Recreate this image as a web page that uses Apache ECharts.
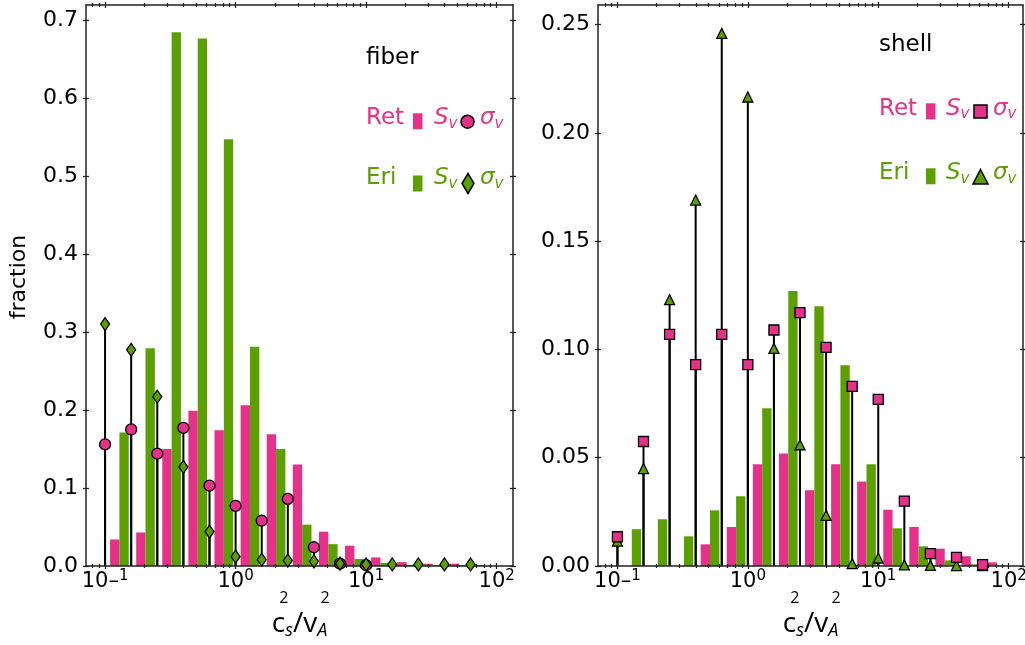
<!DOCTYPE html>
<html><head><meta charset="utf-8">
<script src="https://cdn.jsdelivr.net/npm/echarts@6/dist/echarts.min.js"></script>
<style>html,body{margin:0;padding:0;background:#fff}#c{width:1025px;height:645px}</style>
</head><body><div id="c"></div>
<script>
// ---- data (x positions are log10 of c_s^2/v_A^2) ----
const stemLogX = [-1.0,-0.8,-0.6,-0.4,-0.2,0.0,0.2,0.4,0.6,0.8,1.0,1.2,1.4,1.6,1.8];
const barLogX  = [-0.89,-0.69,-0.49,-0.29,-0.09,0.11,0.31,0.51,0.71,0.91,1.11,1.31,1.51,1.71,1.91];

// fiber panel
const fiberRetS     = [0.034,0.043,0.150,0.199,0.174,0.206,0.169,0.130,0.044,0.026,0.011,0.005,0.003,0.003,0.001];
const fiberEriS     = [0.171,0.279,0.684,0.676,0.547,0.281,0.150,0.053,0.028,0.009,0.004,0.0015,0.001,0.001,0.0];
const fiberRetSigma = [0.156,0.175,0.144,0.177,0.103,0.077,0.058,0.086,0.024,0.003,0.001,null,null,null,null];
const fiberEriSigma = [0.310,0.277,0.217,0.127,0.044,0.012,0.008,0.007,0.006,0.003,0.002,0.002,0.002,0.002,0.002];

// shell panel
const shellRetS     = [0,0,0,0.010,0.018,0.047,0.052,0.035,0.047,0.039,0.026,0.018,0.008,0.0045,0.0017];
const shellEriS     = [0.017,0.0216,0.0137,0.0257,0.0322,0.0729,0.127,0.120,0.0927,0.047,0.0174,0.0091,0.0026,0.0008,0.0002];
const shellRetSigma = [0.0135,0.0575,0.107,0.093,0.107,0.093,0.109,0.117,0.101,0.083,0.077,0.030,0.0057,0.004,0.0006];
const shellEriSigma = [0.0115,0.045,0.123,0.169,0.246,0.2166,0.1005,0.056,0.0234,0.0011,0.0037,0.0005,0.0003,0.0002,0.0002];

// ticks
const xTickLogs = [-1,0,1,2];
const xTickExps = ['-1','0','1','2'];
const yTicksFiber = [0,0.1,0.2,0.3,0.4,0.5,0.6,0.7];
const yTicksShell = [0,0.05,0.10,0.15,0.20,0.25];

// ---- style ----
const PINK = '#E6318A', GREEN = '#5BA000', AXC = '#222';
const FONT = 'DejaVu Sans';
const BAR_W = 0.0715; // bar width in decades
const X_MIN = [-1.146,-1.149], X_MAX = [2.125,2.11];
const Y_MAX = [0.719,0.2591];
const Y_TICKS = [yTicksFiber, yTicksShell];
const Y_DEC = [1,2];

function minorTicks(g){
  const out=[];
  for(let d=-2; d<=2; d++) for(let k=2;k<=9;k++){ const v=Math.log10(k)+d; if(v>X_MIN[g]&&v<X_MAX[g]) out.push(v); }
  return out;
}
function xAx(g, o){
  return Object.assign({type:'value', gridIndex:g, min:X_MIN[g], max:X_MAX[g], z:10,
    axisLine:{show:false,onZero:false}, axisTick:{show:false}, axisLabel:{show:false}, splitLine:{show:false}}, o);
}
function yAx(g, o){
  return Object.assign({type:'value', gridIndex:g, min:0, max:Y_MAX[g], z:10,
    axisLine:{show:false,onZero:false}, axisTick:{show:false}, axisLabel:{show:false}, splitLine:{show:false}}, o);
}
const lineOn = {show:true,onZero:false,lineStyle:{color:AXC,width:1.5}};
function tick(vals,len){ return {show:true, customValues:vals, length:len, lineStyle:{color:AXC,width:1.3}}; }

const xAxes=[], yAxes=[];
[0,1].forEach(g=>{
  const mn = minorTicks(g);
  xAxes.push(xAx(g,{position:'bottom', axisLine:lineOn,
    axisLabel:{show:true, customValues:xTickLogs, margin:3,
      formatter:v=>{ const i=xTickLogs.findIndex(t=>Math.abs(t-v)<1e-6); const e=xTickExps[i];
        return e[0]==='-' ? '{b|10–}{s|'+e.slice(1)+'}' : '{b|10}{s|'+e+'}'; },
      rich:{ b:{fontFamily:FONT,fontSize:21,color:'#000',lineHeight:26,verticalAlign:'middle'},
             s:{fontFamily:FONT,fontSize:15,color:'#000',lineHeight:15,verticalAlign:'top'} } },
    name:'{sp|}{t|2}{g|}{t|2}\n{m|c}{sub|s}{m|/v}{sub|A}', nameLocation:'middle', nameGap:22, nameMoveOverlap:false,
    nameTextStyle:{ rich:{ sp:{width:10}, g:{width:32},
      t:{fontFamily:'Open Sans',fontSize:16,color:'#000',lineHeight:20},
      m:{fontFamily:'Open Sans',fontSize:28,color:'#000',lineHeight:32},
      sub:{fontFamily:'Open Sans',fontSize:18,fontStyle:'italic',color:'#000',lineHeight:32,verticalAlign:'bottom'} } }
  }));
  xAxes.push(xAx(g,{position:'bottom', offset:-3, axisTick:tick(xTickLogs,6)}));
  xAxes.push(xAx(g,{position:'bottom', offset:-2, axisTick:tick(mn,4)}));
  xAxes.push(xAx(g,{position:'top', axisLine:lineOn}));
  xAxes.push(xAx(g,{position:'top', offset:-3, axisTick:tick(xTickLogs,6)}));
  xAxes.push(xAx(g,{position:'top', offset:-2, axisTick:tick(mn,4)}));

  const yl = {position:'left', axisLine:lineOn,
    axisLabel:{show:true, customValues:Y_TICKS[g], margin:8, fontFamily:FONT, fontSize:22, color:'#000',
      formatter:v=>v.toFixed(Y_DEC[g])}};
  if(g===0){ Object.assign(yl,{name:'fraction', nameLocation:'middle', nameGap:56, nameRotate:90, nameMoveOverlap:false,
    nameTextStyle:{fontFamily:FONT,fontSize:22,color:'#000',padding:[0,0,0,17]}}); }
  yAxes.push(yAx(g,yl));
  yAxes.push(yAx(g,{position:'left', offset:-3, axisTick:tick(Y_TICKS[g],6)}));
  yAxes.push(yAx(g,{position:'right', axisLine:lineOn}));
  yAxes.push(yAx(g,{position:'right', offset:-3, axisTick:tick(Y_TICKS[g],6)}));
});

function barSeries(g, vals, side, color){
  return {type:'custom', coordinateSystem:'cartesian2d', xAxisIndex:g*6, yAxisIndex:g*4, z:2,
    data: barLogX.map((x,i)=>[x, vals[i]]),
    renderItem:(p,api)=>{
      const x=api.value(0), y=api.value(1);
      const x0 = side<0 ? x-BAR_W : x, x1 = side<0 ? x : x+BAR_W;
      const a=api.coord([x0,0]), b=api.coord([x1,y]);
      return {type:'rect', shape:{x:a[0], y:b[1], width:b[0]-a[0], height:a[1]-b[1]}, style:{fill:color}};
    }};
}
function stemSeries(g, vals){
  return {type:'custom', coordinateSystem:'cartesian2d', xAxisIndex:g*6, yAxisIndex:g*4, z:4,
    data: stemLogX.map((x,i)=>[x, vals[i]]).filter(d=>d[1]!=null),
    renderItem:(p,api)=>{
      const a=api.coord([api.value(0),0]), b=api.coord([api.value(0),api.value(1)]);
      return {type:'line', shape:{x1:a[0],y1:a[1],x2:b[0],y2:b[1]}, style:{stroke:'#000',lineWidth:2}};
    }};
}
function markSeries(g, vals, symbol, size, color, z){
  return {type:'scatter', xAxisIndex:g*6, yAxisIndex:g*4, z:z, clip:false, symbol:symbol, symbolSize:size,
    itemStyle:{color:color, borderColor:'#000', borderWidth:1.3, opacity:1},
    data: stemLogX.map((x,i)=>[x, vals[i]]).filter(d=>d[1]!=null)};
}

const series = [
  barSeries(0, fiberRetS, -1, PINK), barSeries(0, fiberEriS, 1, GREEN),
  stemSeries(0, fiberRetSigma), stemSeries(0, fiberEriSigma),
  markSeries(0, fiberRetSigma, 'circle', 11, PINK, 20),
  markSeries(0, fiberEriSigma, 'diamond', [9,13], GREEN, 21),
  barSeries(1, shellRetS, -1, PINK), barSeries(1, shellEriS, 1, GREEN),
  stemSeries(1, shellRetSigma), stemSeries(1, shellEriSigma),
  markSeries(1, shellEriSigma, 'triangle', [10,10], GREEN, 20),
  markSeries(1, shellRetSigma, 'rect', 10, PINK, 21)
];

// legend-like annotations
function txt(x,y,text,color,rich){ const s={text:text, fill:color, font:'23px "DejaVu Sans"', verticalAlign:'middle', align:'left'};
  if(rich) s.rich=rich; return {type:'text', x:x, y:y, style:s, z:50}; }
const richS = c=>({a:{fontFamily:FONT,fontSize:23,fontStyle:'italic',fill:c,color:c,lineHeight:26,verticalAlign:'middle'},
                   b:{fontFamily:FONT,fontSize:15,fontStyle:'italic',fill:c,color:c,lineHeight:26,verticalAlign:'bottom'}});
const sty = c=>({fill:c, stroke:'#000', lineWidth:1.5});
const graphic = [
  txt(366,58.5,'fiber','#000'),
  txt(366,118.5,'Ret',PINK), {type:'rect',shape:{x:413,y:113.3,width:9.5,height:16},style:{fill:PINK},z:50},
  txt(434,118.5,'{a|S}{b|v}',PINK,richS(PINK)),
  {type:'circle',shape:{cx:467.5,cy:121.7,r:6.5},style:sty(PINK),z:50},
  txt(480,118.5,'{a|σ}{b|v}',PINK,richS(PINK)),
  txt(366,178.5,'Eri',GREEN), {type:'rect',shape:{x:413,y:175.5,width:9.5,height:16},style:{fill:GREEN},z:50},
  txt(434,178.5,'{a|S}{b|v}',GREEN,richS(GREEN)),
  {type:'polygon',shape:{points:[[468,173.5],[474,183.5],[468,193.5],[462,183.5]]},style:sty(GREEN),z:50},
  txt(480,178.5,'{a|σ}{b|v}',GREEN,richS(GREEN)),

  txt(879,45,'shell','#000'),
  txt(879,109,'Ret',PINK), {type:'rect',shape:{x:926,y:103.3,width:9.5,height:16},style:{fill:PINK},z:50},
  txt(946,109,'{a|S}{b|v}',PINK,richS(PINK)),
  {type:'rect',shape:{x:974,y:105,width:13,height:13},style:sty(PINK),z:50},
  txt(993,109,'{a|σ}{b|v}',PINK,richS(PINK)),
  txt(879,173.5,'Eri',GREEN), {type:'rect',shape:{x:926,y:168.3,width:9.5,height:16},style:{fill:GREEN},z:50},
  txt(946,173.5,'{a|S}{b|v}',GREEN,richS(GREEN)),
  {type:'polygon',shape:{points:[[980.5,169.5],[988,184],[973,184]]},style:sty(GREEN),z:50},
  txt(993,173.5,'{a|σ}{b|v}',GREEN,richS(GREEN))
];

const chart = echarts.init(document.getElementById('c'), null, {renderer:'canvas'});
chart.setOption({
  animation:false, backgroundColor:'#fff',
  grid:[{left:86, top:5, width:427, height:561, containLabel:false, outerBoundsMode:'none'},
        {left:598, top:5, width:425, height:561, containLabel:false, outerBoundsMode:'none'}],
  xAxis:xAxes, yAxis:yAxes, series:series, graphic:graphic
});
</script></body></html>
